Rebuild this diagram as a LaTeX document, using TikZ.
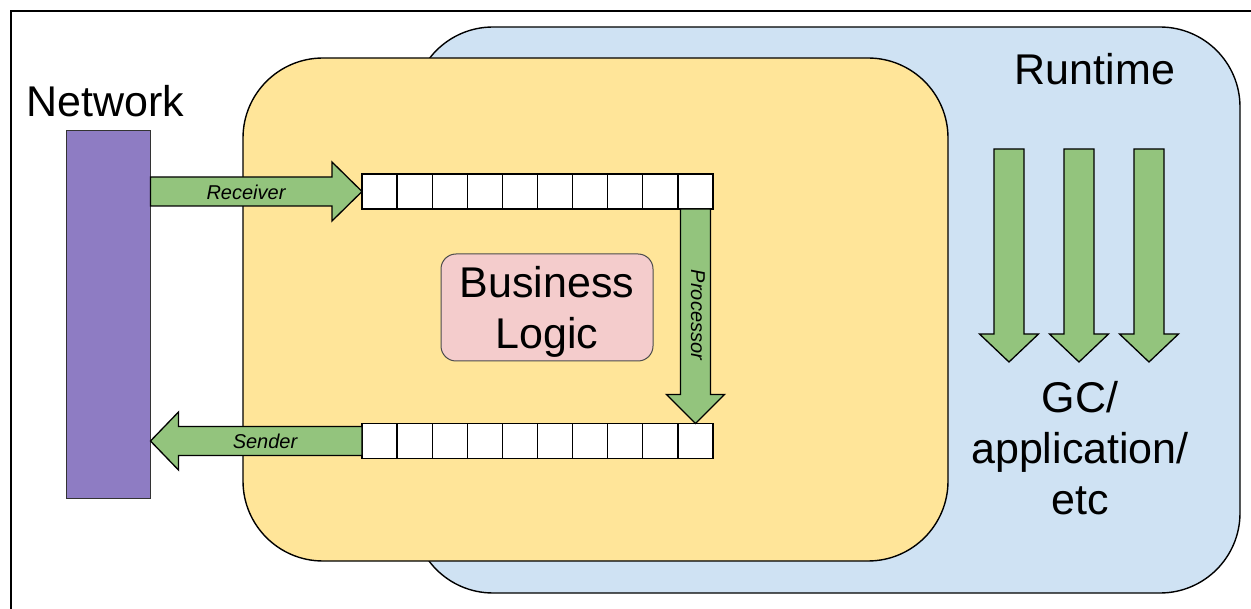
\documentclass[tikz,border=0pt]{standalone}
\usepackage{fontspec}
\setmainfont{Liberation Sans}
\usetikzlibrary{calc}
\definecolor{runtimeblue}{HTML}{CFE2F3}
\definecolor{appyellow}{HTML}{FFE599}
\definecolor{logicpink}{HTML}{F4CCCC}
\definecolor{netpurple}{HTML}{8E7CC3}
\definecolor{flowgreen}{HTML}{93C47D}
\begin{document}
\begin{tikzpicture}[x=1pt,y=-1pt,
  bigtext/.style={font=\fontsize{43}{51}\selectfont, inner sep=0pt},
  smalltext/.style={font=\fontsize{20}{23}\selectfont\itshape, inner sep=0pt},
  area/.style={draw=black, line width=1.4pt, rounded corners=80pt, inner sep=0pt},
  cell/.style={draw=black, fill=white, line width=1.3pt, minimum width=35.1pt, minimum height=35pt, inner sep=0pt, outer sep=0pt},
  fat/.style={draw=black, fill=flowgreen, line width=1.3pt, line join=miter},
]
\useasboundingbox (0,0) rectangle (1251,609);

% outer frame (left and top edges only)
\draw[line width=2.5pt] (11,609) -- (11,11) -- (1251,11);

% runtime and application areas
\node[area, fill=runtimeblue, minimum width=827pt, minimum height=566pt] (runtime) at (826.5,310) {};
\node[area, fill=appyellow, minimum width=705pt, minimum height=503pt] (app) at (595.5,309.5) {};

% business logic box
\node[draw=black!70, line width=1pt, fill=logicpink, rounded corners=15pt,
      minimum width=212pt, minimum height=107pt, inner sep=0pt] (logic) at (547,307.5) {};
\node[bigtext, align=center] (logictext) at (547,312) {Business\\Logic};

% network bar
\node[draw=black!80, line width=1pt, fill=netpurple, minimum width=84pt, minimum height=368pt, inner sep=0pt] (net) at (108,315) {};
\node[bigtext, anchor=base] (nettext) at (105,117) {Network};

% runtime labels
\node[bigtext, anchor=base] (rttext) at (1095,85) {Runtime};
\node[bigtext, align=center] (gctext) at (1080,448) {GC/\\application/\\etc};

% incoming and outgoing queues
\foreach \i in {1,...,10} {
  \node[cell] (q\i) at ({362+17.55+35.1*(\i-1)},191.5) {};
  \node[cell] (p\i) at ({362+17.55+35.1*(\i-1)},441) {};
}

% receiver: network -> incoming queue
\coordinate (rtail) at (net.east |- q1.west);
\coordinate (rtip) at (q1.west);
\draw[fat] ($(rtail)+(0,-14.5)$) -- ($(rtip)+(-30,-14.5)$) -- ($(rtip)+(-30,-29.5)$) -- (rtip)
  -- ($(rtip)+(-30,29.5)$) -- ($(rtip)+(-30,14.5)$) -- ($(rtail)+(0,14.5)$) -- cycle;
\node[smalltext] (rlabel) at (246,192) {Receiver};

% processor: incoming queue -> outgoing queue
\coordinate (ptail) at (q10.south);
\coordinate (ptip) at (p10.north);
\draw[fat] ($(ptail)+(-15,0)$) -- ($(ptip)+(-15,-29)$) -- ($(ptip)+(-29,-29)$) -- (ptip)
  -- ($(ptip)+(29,-29)$) -- ($(ptip)+(15,-29)$) -- ($(ptail)+(15,0)$) -- cycle;
\node[smalltext, rotate=-90] (plabel) at (698,315) {Processor};

% sender: outgoing queue -> network
\coordinate (stail) at (p1.west);
\coordinate (stip) at (net.east |- p1.west);
\draw[fat] ($(stail)+(0,-14.5)$) -- ($(stip)+(28,-14.5)$) -- ($(stip)+(28,-29)$) -- (stip)
  -- ($(stip)+(28,29)$) -- ($(stip)+(28,14.5)$) -- ($(stail)+(0,14.5)$) -- cycle;
\node[smalltext] (slabel) at (265,441) {Sender};

% runtime activity arrows
\foreach \x [count=\k] in {1009,1079,1149} {
  \coordinate (gtail\k) at (\x,149);
  \coordinate (gtip\k) at (\x,362);
  \draw[fat] ($(gtail\k)+(-15,0)$) -- ($(gtip\k)+(-15,-28)$) -- ($(gtip\k)+(-29.5,-28)$) -- (gtip\k)
    -- ($(gtip\k)+(29.5,-28)$) -- ($(gtip\k)+(15,-28)$) -- ($(gtail\k)+(15,0)$) -- cycle;
}
\end{tikzpicture}
\end{document}
